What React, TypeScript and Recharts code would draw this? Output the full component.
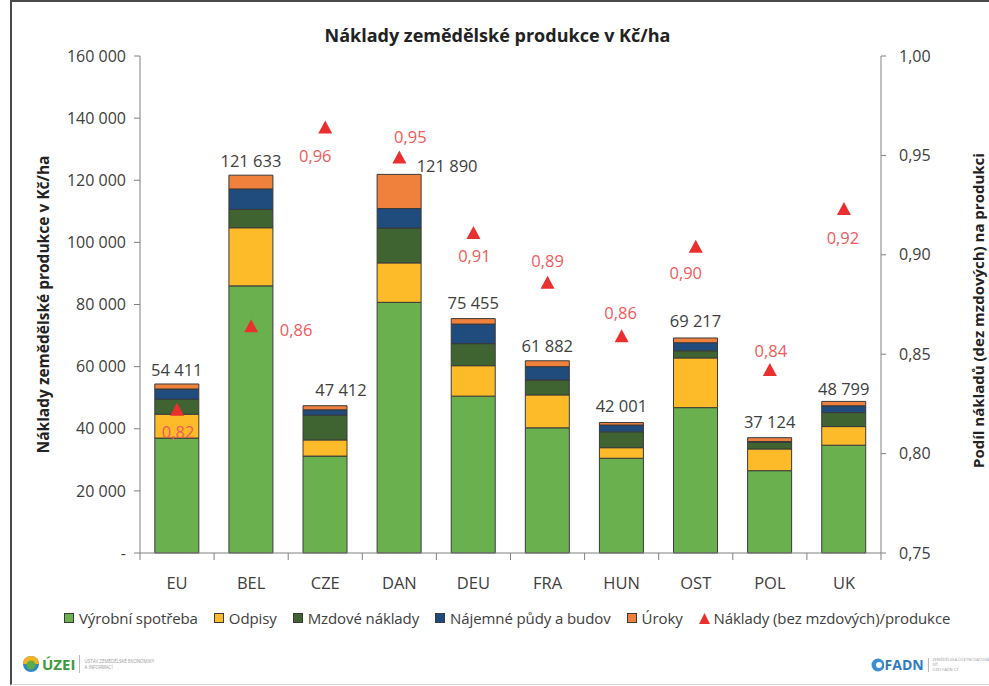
import React from 'react';
import { ComposedChart, Bar, Line, XAxis, YAxis, Legend, LabelList } from 'recharts';

// ---------- data ----------
const categories = ['EU', 'BEL', 'CZE', 'DAN', 'DEU', 'FRA', 'HUN', 'OST', 'POL', 'UK'];
const vyrobniSpotreba = [37000, 86000, 31200, 80700, 50500, 40300, 30500, 46800, 26500, 34700];
const odpisy = [7700, 18700, 5200, 12700, 9800, 10600, 3400, 16000, 7000, 6000];
const mzdoveNaklady = [4800, 5900, 8000, 11200, 7100, 4800, 5100, 2300, 2100, 4500];
const najemne = [3300, 6600, 1700, 6300, 6300, 4300, 2200, 2600, 300, 2200];
const uroky = [1611, 4433, 1312, 10990, 1755, 1882, 801, 1517, 1224, 1399];
const totals = [54411, 121633, 47412, 121890, 75455, 61882, 42001, 69217, 37124, 48799];
const ratio = [0.822, 0.864, 0.964, 0.949, 0.911, 0.886, 0.859, 0.904, 0.842, 0.923];
const leftTicks = [0, 20000, 40000, 60000, 80000, 100000, 120000, 140000, 160000];
const rightTicks = [0.75, 0.8, 0.85, 0.9, 0.95, 1.0];

// label placement (dx, dy) relative to bar top / marker
const totalLabelShift = [[0, -14], [0, -15], [16, -16], [48, -9], [0, -16], [0, -15], [0, -17], [0, -17], [0, -16], [0, -13]];
const ratioLabelShift = [[1, 22], [45, 3], [-10, 28], [11, -21], [1, 23], [0, -22], [-1, -24], [-10, 26], [1, -20], [-1, 28]];

const data = categories.map((c, i) => ({
  name: c,
  vyrobni: vyrobniSpotreba[i],
  odpisy: odpisy[i],
  mzdove: mzdoveNaklady[i],
  najemne: najemne[i],
  uroky: uroky[i],
  total: totals[i],
  ratio: ratio[i],
}));

// ---------- style ----------
const FONT = "'Open Sans', sans-serif";
const TXT = '#404040';
const AX = '#808080';
const COL = {
  green: '#6AB04F',
  yellow: '#FDBB2A',
  dark: '#3F6431',
  blue: '#1F4B7D',
  orange: '#F0813D',
  red: '#E9302E',
  redText: '#F25A5A',
};
const BAR_STROKE = '#3a3a3a';

const fmtThousands = (n: number) => String(Math.round(n)).replace(/\B(?=(\d{3})+(?!\d))/g, ' ');
const fmtLeft = (v: number) => (v === 0 ? '-' : fmtThousands(v));
const fmtRight = (v: number) => v.toFixed(2).replace('.', ',');

const legendItems = [
  { name: 'Výrobní spotřeba', color: COL.green, kind: 'square' },
  { name: 'Odpisy', color: COL.yellow, kind: 'square' },
  { name: 'Mzdové náklady', color: COL.dark, kind: 'square' },
  { name: 'Nájemné půdy a budov', color: COL.blue, kind: 'square' },
  { name: 'Úroky', color: COL.orange, kind: 'square' },
  { name: 'Náklady (bez mzdových)/produkce', color: COL.red, kind: 'triangle' },
];

const LegendContent = () => (
  <div style={{ display: 'flex', alignItems: 'center', justifyContent: 'flex-start', paddingLeft: 64, fontFamily: FONT, fontSize: 15, color: TXT, whiteSpace: 'nowrap', letterSpacing: -0.1 }}>
    {legendItems.map((it) => (
      <div key={it.name} style={{ display: 'flex', alignItems: 'center', marginRight: 16 }}>
        <svg width={11} height={11} style={{ marginRight: 4 }}>
          {it.kind === 'square' ? (
            <rect x={0.5} y={0.5} width={9} height={9} fill={it.color} stroke={BAR_STROKE} strokeWidth={1} />
          ) : (
            <polygon points="5.5,0 11,11 0,11" fill={it.color} />
          )}
        </svg>
        <span>{it.name}</span>
      </div>
    ))}
  </div>
);

const TotalLabel = (props: any) => {
  const { x, y, width, index } = props;
  const [dx, dy] = totalLabelShift[index];
  return (
    <text x={x + width / 2 + dx} y={y + dy} textAnchor="middle" dominantBaseline="central" fontFamily={FONT} fontSize={16.5} fill={TXT}>
      {fmtThousands(totals[index])}
    </text>
  );
};

const RatioLabel = (props: any) => {
  const { x, y, index } = props;
  const [dx, dy] = ratioLabelShift[index];
  return (
    <text x={x + dx} y={y + dy} textAnchor="middle" dominantBaseline="central" fontFamily={FONT} fontSize={16.5} fill={COL.redText}>
      {fmtRight(ratio[index])}
    </text>
  );
};

const Triangle = (props: any) => {
  const { cx, cy } = props;
  if (cx == null || cy == null) return null;
  return <polygon points={`${cx},${cy - 7} ${cx + 7},${cy + 6} ${cx - 7},${cy + 6}`} fill={COL.red} />;
};

const XTick = (props: any) => {
  const { x, y, payload, index, visibleTicksCount } = props;
  const off = payload.offset || 37;
  const top = y - 8;
  return (
    <g>
      <line x1={x - off} x2={x - off} y1={top} y2={top + 7} stroke={AX} />
      {index === visibleTicksCount - 1 && <line x1={x + off} x2={x + off} y1={top} y2={top + 7} stroke={AX} />}
      <text x={x} y={y + 21} textAnchor="middle" dominantBaseline="central" fontFamily={FONT} fontSize={16.5} fill={TXT}>
        {payload.value}
      </text>
    </g>
  );
};

const LeftTitle = (props: any) => {
  const vb = props.viewBox || {};
  const cx = 43;
  const cy = vb.y + vb.height / 2;
  return (
    <text x={cx} y={cy} transform={`rotate(-90 ${cx} ${cy})`} textAnchor="middle" dominantBaseline="central" fontFamily={FONT} fontWeight="bold" fontSize={15.5} fill="#222">
      Náklady zemědělské produkce v Kč/ha
    </text>
  );
};

const RightTitle = (props: any) => {
  const vb = props.viewBox || {};
  const cx = 978;
  const cy = vb.y + vb.height / 2 + 6;
  return (
    <text x={cx} y={cy} transform={`rotate(-90 ${cx} ${cy})`} textAnchor="middle" dominantBaseline="central" fontFamily={FONT} fontWeight="bold" fontSize={15} fill="#222">
      Podíl nákladů (dez mzdových) na produkci
    </text>
  );
};

const Logos = () => (
  <>
    <div style={{ position: 'absolute', left: 22, top: 654, display: 'flex', alignItems: 'center', fontFamily: FONT }}>
      <svg width={18} height={18}>
        <circle cx={9} cy={9} r={8} fill="#2F86C8" />
        <path d="M1,9 A8,8 0 0 1 17,9 Z" fill="#F5B323" />
        <circle cx={9} cy={10} r={4.5} fill="#5AAE45" />
      </svg>
      <span style={{ color: '#3E9A3A', fontWeight: 'bold', fontSize: 15, marginLeft: 2 }}>ÚZEI</span>
      <div style={{ width: 1, height: 18, background: '#bbb', margin: '0 4px' }} />
      <div style={{ fontSize: 4.5, color: '#999', lineHeight: '6px' }}>
        ÚSTAV ZEMĚDĚLSKÉ EKONOMIKY<br />A INFORMACÍ
      </div>
    </div>
    <div style={{ position: 'absolute', left: 871, top: 655, display: 'flex', alignItems: 'center', fontFamily: FONT }}>
      <svg width={14} height={14}>
        <circle cx={7} cy={7} r={6.5} fill="#3C8FD0" />
        <circle cx={8} cy={7} r={3} fill="#fff" />
      </svg>
      <span style={{ color: '#2F7DC0', fontWeight: 'bold', fontSize: 14, marginLeft: 1 }}>FADN</span>
      <div style={{ width: 1, height: 14, background: '#bbb', margin: '0 4px' }} />
      <div style={{ fontSize: 4, color: '#999', lineHeight: '5px' }}>
        ZEMĚDĚLSKÁ ÚČETNÍ DATOVÁ SÍŤ<br />ÚZEI FADN CZ
      </div>
    </div>
  </>
);

export default function App() {
  return (
    <div style={{ position: 'absolute', left: 0, top: 0, width: 989, height: 686, background: '#fff', overflow: 'hidden' }}>
      <div style={{ position: 'absolute', left: 10, top: 0, width: 1000, height: 682, borderLeft: '2px solid #4a4a4a', borderTop: '2px solid #4a4a4a', borderBottom: '1px solid #d4d4d4' }} />
      <div style={{ position: 'absolute', left: 0, top: 23, width: 989, textAlign: 'center', fontFamily: FONT, fontWeight: 'bold', fontSize: 18, color: '#222' }}>
        <span style={{ position: 'relative', left: 3 }}>Náklady zemědělské produkce v Kč/ha</span>
      </div>
      <ComposedChart
        width={989}
        height={686}
        data={data}
        margin={{ top: 56, right: 48, bottom: 103, left: 60 }}
        barCategoryGap="20%"
        style={{ position: 'absolute', left: 0, top: 0 }}
      >
        <XAxis dataKey="name" axisLine={{ stroke: AX }} tickLine={false} tick={<XTick />} height={30} interval={0} />
        <YAxis
          yAxisId="left"
          domain={[0, 160000]}
          ticks={leftTicks}
          tickFormatter={fmtLeft}
          width={80}
          axisLine={{ stroke: AX }}
          tickLine={{ stroke: AX }}
          tickSize={6}
          tickMargin={8}
          tick={{ fontFamily: FONT, fontSize: 16, fill: TXT }}
          label={<LeftTitle />}
          interval={0}
        />
        <YAxis
          yAxisId="right"
          orientation="right"
          domain={[0.75, 1]}
          ticks={rightTicks}
          tickFormatter={fmtRight}
          width={60}
          axisLine={{ stroke: AX }}
          tickLine={{ stroke: AX }}
          tickSize={5}
          tickMargin={13}
          tick={{ fontFamily: FONT, fontSize: 16, fill: TXT, textAnchor: 'start' }}
          label={<RightTitle />}
          interval={0}
          allowDataOverflow
        />
        <Bar yAxisId="left" dataKey="vyrobni" stackId="a" fill={COL.green} stroke={BAR_STROKE} strokeWidth={1} isAnimationActive={false} />
        <Bar yAxisId="left" dataKey="odpisy" stackId="a" fill={COL.yellow} stroke={BAR_STROKE} strokeWidth={1} isAnimationActive={false} />
        <Bar yAxisId="left" dataKey="mzdove" stackId="a" fill={COL.dark} stroke={BAR_STROKE} strokeWidth={1} isAnimationActive={false} />
        <Bar yAxisId="left" dataKey="najemne" stackId="a" fill={COL.blue} stroke={BAR_STROKE} strokeWidth={1} isAnimationActive={false} />
        <Bar yAxisId="left" dataKey="uroky" stackId="a" fill={COL.orange} stroke={BAR_STROKE} strokeWidth={1} isAnimationActive={false}>
          <LabelList dataKey="total" content={<TotalLabel />} />
        </Bar>
        <Line yAxisId="right" dataKey="ratio" stroke="none" dot={<Triangle />} activeDot={false} isAnimationActive={false}>
          <LabelList dataKey="ratio" content={<RatioLabel />} />
        </Line>
        <Legend
          layout="horizontal"
          verticalAlign="middle"
          align="center"
          wrapperStyle={{ top: 608, left: 0, width: 989, height: 24 }}
          content={() => <LegendContent />}
        />
      </ComposedChart>
      <Logos />
    </div>
  );
}
